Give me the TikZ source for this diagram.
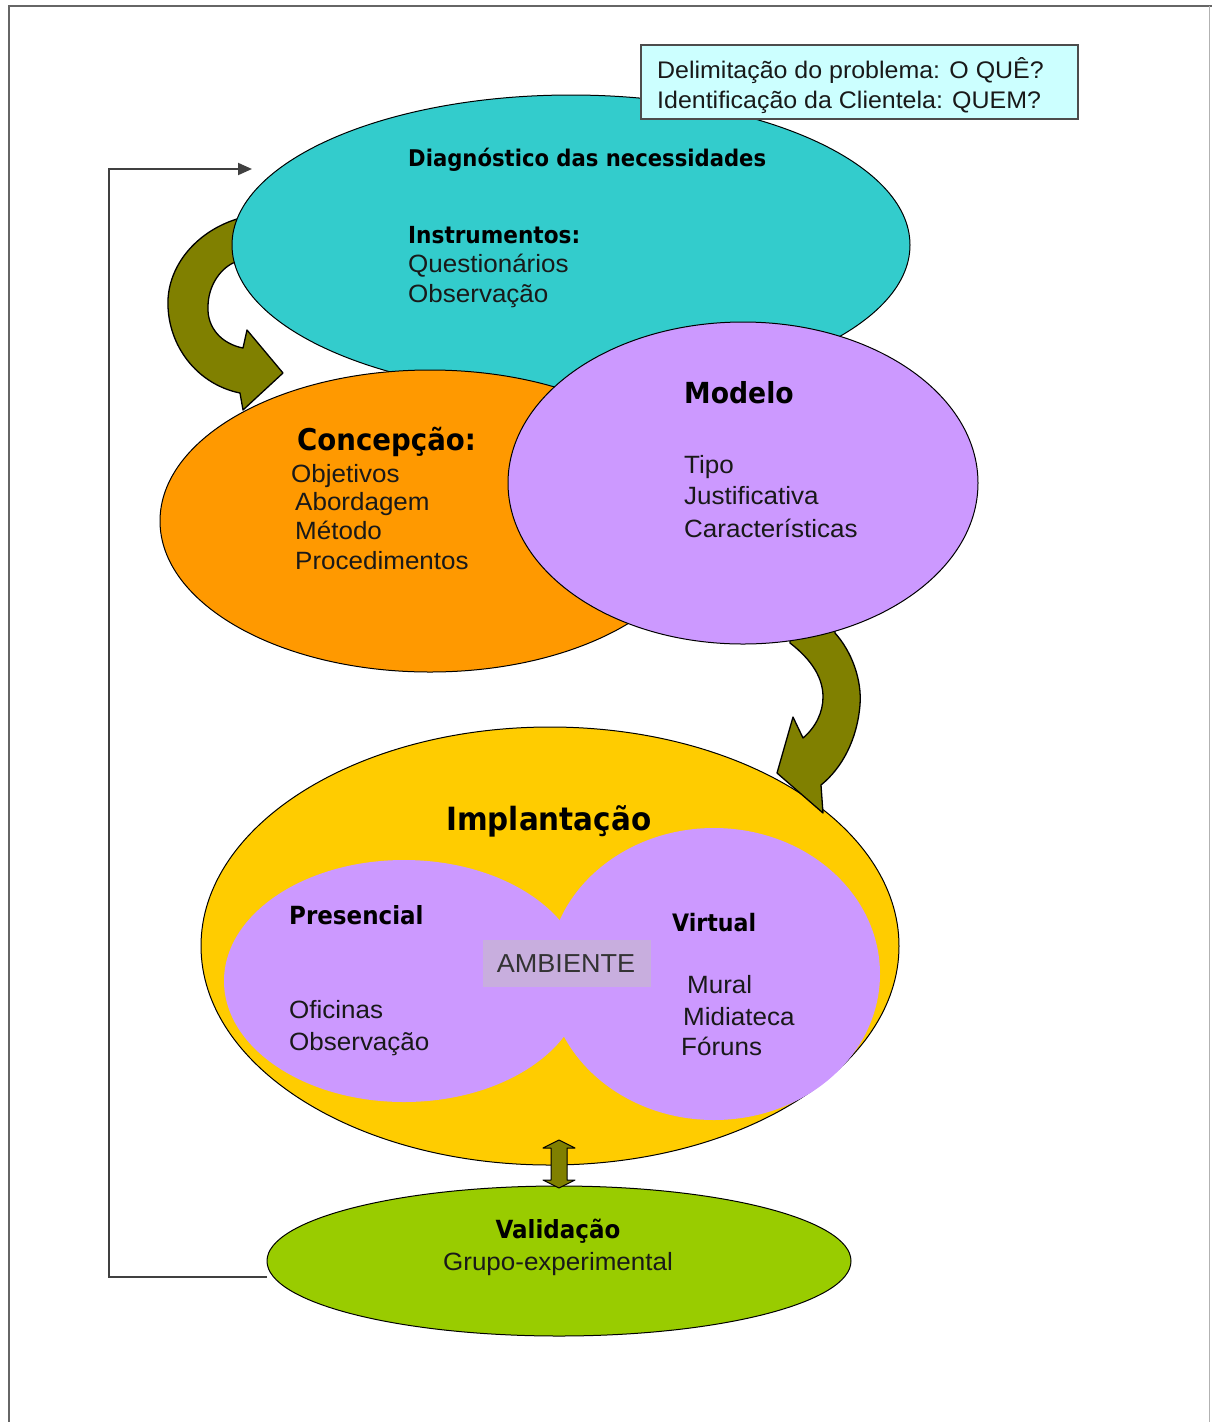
\documentclass[tikz,border=0pt]{standalone}
\usepackage{fontspec}
\usetikzlibrary{shapes.geometric,arrows.meta}
\setmainfont{Liberation Sans}
\newfontfamily\rf{Liberation Sans}[FakeStretch=1.04]
\newfontfamily\vb{DejaVu Sans}[FakeStretch=0.92]
\definecolor{cyanf}{HTML}{33CCCC}
\definecolor{orangef}{HTML}{FF9900}
\definecolor{purplef}{HTML}{CC99FF}
\definecolor{yellowf}{HTML}{FFCC00}
\definecolor{greenf}{HTML}{99CC00}
\definecolor{olivef}{HTML}{808000}
\definecolor{boxf}{HTML}{CCFFFF}
\definecolor{ambf}{RGB}{200,174,222}
\definecolor{framec}{HTML}{666666}
\tikzset{
  ell/.style={ellipse, draw=black, line width=1pt, inner sep=0pt},
  reg/.style={anchor=base west, inner sep=0pt, text=black!90, font=\rf\fontsize{25}{25}\selectfont},
  ttl/.style={anchor=base west, inner sep=0pt, font=\vb\bfseries\fontsize{#1}{#1}\selectfont},
  oarrow/.style={fill=olivef, draw=black, line width=1.3pt, line join=round},
  fbline/.style={draw=black!75, line width=2pt}
}
\begin{document}
\begin{tikzpicture}[x=1pt,y=-1pt]
\useasboundingbox (0,0) rectangle (1212,1422);
% frame
\draw[framec, line width=2.5pt] (9,1422) -- (9,6) -- (1212,6);
\draw[black!30, line width=1pt] (1209,6) -- (1209,1422);

% olive arrow 1 (under the cyan ellipse)
\path[oarrow] (262,219) -- (237,219) .. controls (195,232) and (166,268) .. (168,307)
  .. controls (170,350) and (200,385) .. (240,393) -- (243,410) -- (283,373)
  -- (247,330) -- (243,348) .. controls (222,344) and (207,328) .. (208,307)
  .. controls (208,287) and (219,270) .. (233,263) -- (262,263) -- cycle;

% ellipses
\node[ell, fill=cyanf, minimum width=678pt, minimum height=300pt] (diag) at (571,245) {};
\node[ell, fill=orangef, minimum width=540pt, minimum height=302pt] (conc) at (430,521) {};
\node[ell, fill=yellowf, minimum width=698pt, minimum height=438pt] (impl) at (550,946) {};

% olive arrow 2
\path[oarrow] (835,610) -- (835,633) .. controls (852,652) and (862,680) .. (860,705)
  .. controls (857,740) and (842,768) .. (821,785) -- (823,813) -- (777,773)
  -- (793,717) -- (803,738) .. controls (816,727) and (823,712) .. (823,697)
  .. controls (823,678) and (812,660) .. (790,643) -- (790,610) -- cycle;

\node[ell, fill=purplef, minimum width=470pt, minimum height=322pt] (modelo) at (743,483) {};

% inner purple region
\node[ellipse, fill=purplef, inner sep=0pt, minimum width=360pt, minimum height=242pt] (pres) at (404,981) {};
\node[ellipse, fill=purplef, inner sep=0pt, minimum width=332pt, minimum height=292pt] (virt) at (714,974) {};
\node[fill=ambf, inner sep=0pt, minimum width=168pt, minimum height=47pt] (amb) at (567,963.5) {};
\node[inner sep=0pt, text=black!80, font=\rf\fontsize{26}{26}\selectfont, anchor=base] (ambt) at (566,972) {AMBIENTE};

% validation ellipse
\node[ell, fill=greenf, minimum width=584pt, minimum height=150pt] (valid) at (559,1261) {};

% double arrow
\path[oarrow, line width=1pt] (559,1140) -- (575,1148) -- (567,1148) -- (567,1180) -- (575,1180)
  -- (559,1188) -- (543,1180) -- (551,1180) -- (551,1148) -- (543,1148) -- cycle;

% feedback line
\coordinate (fb0) at (267,1277);
\coordinate (fb1) at (109,1277);
\coordinate (fb2) at (109,169);
\coordinate (fb3) at (252,169);
\draw[fbline, -{Triangle[length=14pt,width=12pt]}] (fb0) -- (fb1) -- (fb2) -- (fb3);

% top box
\node[draw=black!70, line width=1.5pt, fill=boxf, minimum width=437pt, minimum height=74pt, anchor=north west, inner sep=0pt] (tbox) at (640,44) {};
\node[reg, font=\rf\fontsize{24}{24}\selectfont] (tb1) at (657,78) {Delimitação do problema: O QUÊ?};
\node[reg, font=\rf\fontsize{24}{24}\selectfont] (tb2) at (657,108) {Identificação da Clientela: QUEM?};

% diagnostico texts
\node[ttl=23] (t1) at (408,166) {Diagnóstico das necessidades};
\node[ttl=23.5] (t2) at (408,243) {Instrumentos:};
\node[reg] (t3) at (408,272) {Questionários};
\node[reg] (t4) at (408,302) {Observação};

% concepcao texts
\node[ttl=30] (c1) at (297,450) {Concepção:};
\node[reg] (c2) at (291,482) {Objetivos};
\node[reg] (c3) at (295,510) {Abordagem};
\node[reg] (c4) at (295,539) {Método};
\node[reg] (c5) at (295,569) {Procedimentos};

% modelo texts
\node[ttl=29] (m1) at (684,403) {Modelo};
\node[reg] (m2) at (684,473) {Tipo};
\node[reg] (m3) at (684,504) {Justificativa};
\node[reg] (m4) at (684,537) {Características};

% implantacao texts
\node[ttl=32] (i1) at (446,830) {Implantação};
\node[ttl=25] (i2) at (289,924) {Presencial};
\node[ttl=24] (i3) at (672,931) {Virtual};
\node[reg] (i4) at (289,1018) {Oficinas};
\node[reg] (i5) at (289,1050) {Observação};
\node[reg] (i6) at (687,993) {Mural};
\node[reg] (i7) at (683,1025) {Midiateca};
\node[reg] (i8) at (681,1055) {Fóruns};

% validacao texts
\node[ttl=25, anchor=base] (v1) at (558,1238) {Validação};
\node[reg, anchor=base] (v2) at (558,1270) {Grupo-experimental};
\end{tikzpicture}
\end{document}
